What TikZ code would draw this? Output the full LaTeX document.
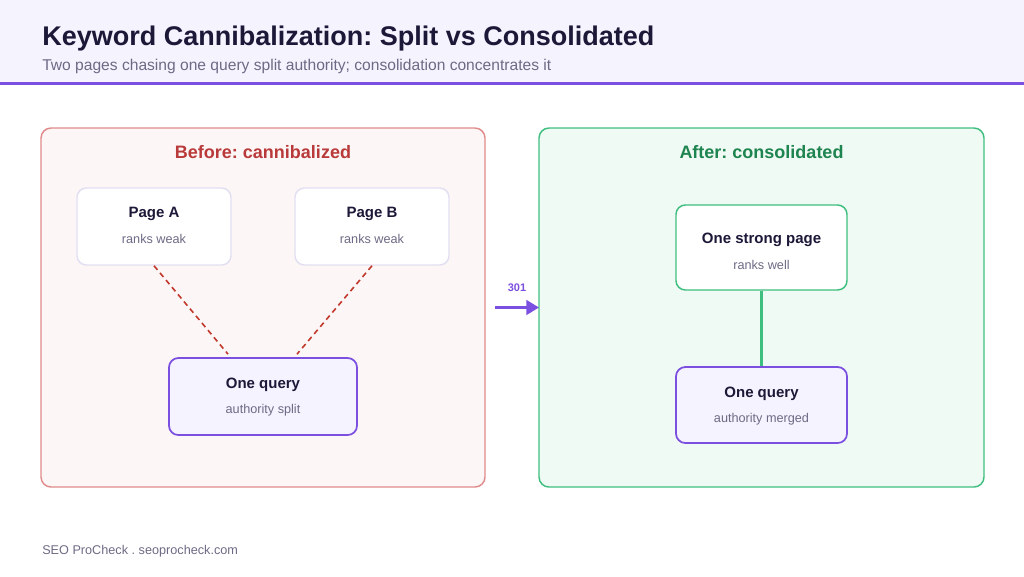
\documentclass[tikz,border=0pt]{standalone}
\usepackage{fontspec}
\setmainfont{Liberation Sans}
\usetikzlibrary{arrows.meta,calc}
\frenchspacing

\definecolor{headbg}{HTML}{F5F3FE}
\definecolor{purp}{HTML}{7B4FE0}
\definecolor{ink}{HTML}{1C1838}
\definecolor{muted}{HTML}{6E6A85}
\definecolor{redfill}{HTML}{FDF6F6}
\definecolor{redline}{HTML}{E08C8C}
\definecolor{redtext}{HTML}{B93A3A}
\definecolor{reddash}{HTML}{C0392B}
\definecolor{greenfill}{HTML}{F0FAF4}
\definecolor{greenline}{HTML}{3FBF7F}
\definecolor{greentext}{HTML}{1E8450}
\definecolor{cardline}{HTML}{E2DFF2}
\definecolor{queryfill}{HTML}{F5F3FF}

\begin{document}
\begin{tikzpicture}[x=0.75pt,y=-0.75pt,
	panel/.style={rounded corners=7.5pt,line width=1.1pt,inner sep=0pt,outer sep=0pt,
		minimum width=333pt,minimum height=269.25pt},
	card/.style={rounded corners=7pt,line width=1.1pt,fill=white,draw=cardline,inner sep=0pt,
		minimum width=115.5pt,minimum height=57.75pt},
	query/.style={card,fill=queryfill,draw=purp,line width=1.3pt},
	cardtitle/.style={anchor=base,inner sep=0pt,text=ink,font=\fontsize{11.25}{13}\selectfont\bfseries},
	cardnote/.style={anchor=base,inner sep=0pt,text=muted,font=\fontsize{9.5}{11}\selectfont},
	paneltitle/.style={anchor=base,inner sep=0pt,font=\fontsize{13.5}{16}\selectfont\bfseries}]

	\useasboundingbox (0,0) rectangle (1024,576);
	% header
	\fill[headbg] (0,0) rectangle (1024,82);
	\fill[purp] (0,81.5) rectangle (1024,84.5);
	\node (title) [anchor=base west,inner sep=0pt,text=ink,font=\fontsize{20.25}{24}\selectfont\bfseries]
		at (42,45) {Keyword Cannibalization: Split vs Consolidated};
	\node (subtitle) [anchor=base west,inner sep=0pt,text=muted,font=\fontsize{11.7}{14}\selectfont]
		at (42,70) {Two pages chasing one query split authority; consolidation concentrates it};

	% before
	\node (before) [panel,draw=redline,fill=redfill] at (263,307.5) {};
	\node (before-t) [paneltitle,text=redtext] at (263,158.5) {Before: cannibalized};
	\node (pa) [card] at (154,226.5) {};
	\node (pa-t) [cardtitle] at (154,217.5) {Page A};
	\node (pa-n) [cardnote] at (154,243.5) {ranks weak};
	\node (pb) [card] at (372,226.5) {};
	\node (pb-t) [cardtitle] at (372,217.5) {Page B};
	\node (pb-n) [cardnote] at (372,243.5) {ranks weak};
	\node (q1) [query,minimum width=141pt] at (263,396.5) {};
	\node (q1-t) [cardtitle] at (263,388.5) {One query};
	\node (q1-n) [cardnote] at (263,413.5) {authority split};
	\draw[reddash,line width=1.2pt,dash pattern=on 4pt off 3pt] (pa.south) -- ($(q1.north)+(-35,-3)$);
	\draw[reddash,line width=1.2pt,dash pattern=on 4pt off 3pt] (pb.south) -- ($(q1.north)+(34,-3)$);

	% after
	\node (after) [panel,draw=greenline,fill=greenfill,minimum width=333.75pt] at (761.5,307.5) {};
	\node (after-t) [paneltitle,text=greentext] at (761.5,158.5) {After: consolidated};
	\node (sp) [card,draw=greenline,minimum width=128.25pt,minimum height=63.75pt] at (761.5,247.5) {};
	\node (sp-t) [cardtitle] at (761.5,243.5) {One strong page};
	\node (sp-n) [cardnote] at (761.5,269.5) {ranks well};
	\node (q2) [query,minimum width=128.25pt,minimum height=57pt] at (761.5,405) {};
	\node (q2-t) [cardtitle] at (761.5,397.5) {One query};
	\node (q2-n) [cardnote] at (761.5,422.5) {authority merged};
	\draw[greenline,line width=1.9pt] (sp) -- (q2);

	% redirect
	\draw[purp,line width=1.9pt,-{Triangle[length=9.5pt,width=11pt]}] ([xshift=7.5pt]before.east) -- (after.west)
		node (r301) [midway,above=11pt,inner sep=0pt,text=purp,font=\fontsize{8.25}{10}\selectfont\bfseries] {301};

	% footer
	\node (footer) [anchor=base west,inner sep=0pt,text=muted,font=\fontsize{9.5}{11}\selectfont]
		at (42,554) {SEO ProCheck . seoprocheck.com};
\end{tikzpicture}
\end{document}
